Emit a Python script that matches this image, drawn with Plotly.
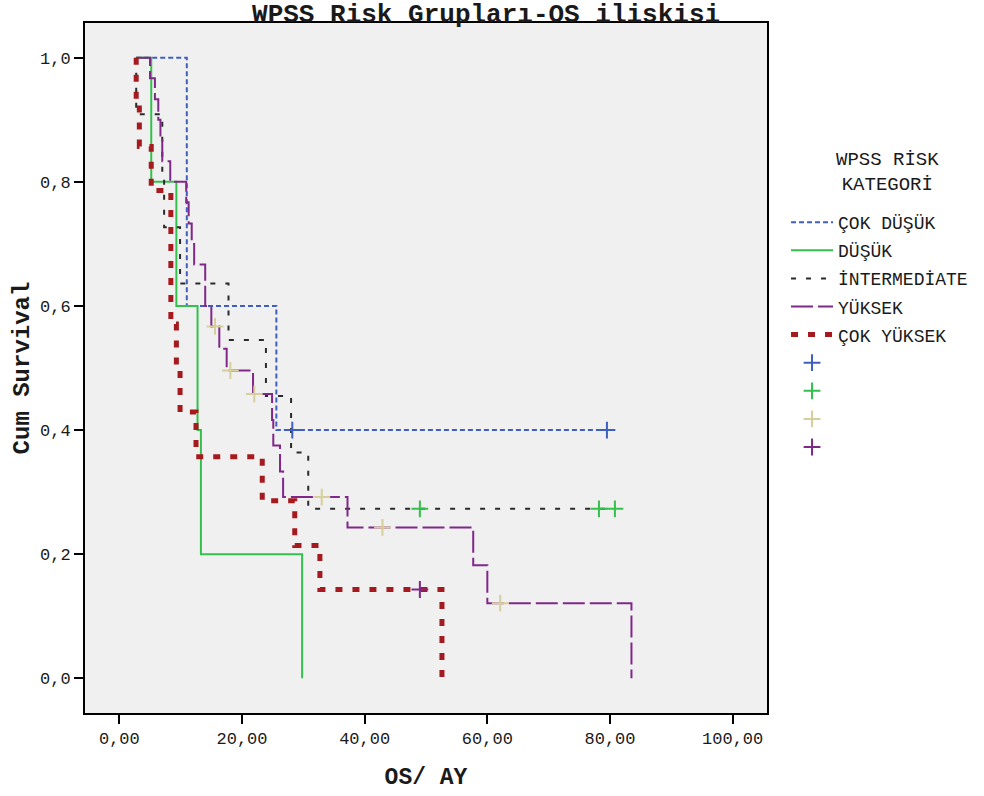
import plotly.graph_objects as go

# ---------------- data ----------------
CATEGORIES = ["ÇOK DÜŞÜK", "DÜŞÜK", "İNTERMEDİATE", "YÜKSEK", "ÇOK YÜKSEK"]
LEGEND_TITLE = "WPSS RİSK<br>KATEGORİ"
START_TIME = 2.75

COK_DUSUK_TIMES = [11.0, 25.6]
COK_DUSUK_SURV = [0.6, 0.4]
COK_DUSUK_CENSOR = [28.2, 79.5]

DUSUK_TIMES = [5.2, 9.3, 12.75, 13.3, 29.8]
DUSUK_SURV = [0.8, 0.6, 0.4, 0.2, 0.0]
DUSUK_CENSOR = []

INTER_TIMES = [2.75, 7.0, 7.3, 9.9, 17.8, 23.9, 28.0, 30.8]
INTER_SURV = [0.909, 0.818, 0.727, 0.636, 0.545, 0.455, 0.364, 0.273]
INTER_CENSOR = [49.0, 78.2, 80.8]

YUKSEK_TIMES = [5.0, 5.8, 6.35, 6.7, 7.0, 8.3, 10.9, 11.3, 11.8, 12.2, 14.0, 15.0,
                16.3, 17.5, 21.8, 24.9, 25.1, 26.2, 26.7, 37.2, 57.7, 60.0, 83.5]
YUKSEK_SURV = [0.967, 0.933, 0.900, 0.867, 0.833, 0.800, 0.767, 0.733, 0.700, 0.667, 0.600, 0.567,
               0.531, 0.496, 0.458, 0.416, 0.375, 0.333, 0.292, 0.243, 0.182, 0.121, 0.0]
YUKSEK_CENSOR = [15.6, 18.1, 22.0, 33.0, 42.9, 62.1]

COK_YUKSEK_TIMES = [2.75, 3.26, 5.2, 8.4, 9.3, 9.9, 12.5, 23.3, 28.6, 32.7, 52.6]
COK_YUKSEK_SURV = [0.929, 0.857, 0.786, 0.571, 0.500, 0.429, 0.357, 0.286, 0.214, 0.143, 0.0]
COK_YUKSEK_CENSOR = [49.0]

X_TICKS = [0, 20, 40, 60, 80, 100]
X_TICK_LABELS = ["0,00", "20,00", "40,00", "60,00", "80,00", "100,00"]
Y_TICKS = [0.0, 0.2, 0.4, 0.6, 0.8, 1.0]
Y_TICK_LABELS = ["0,0", "0,2", "0,4", "0,6", "0,8", "1,0"]

# ---------------- styles ----------------
FONT = "Liberation Mono"
TXT = "#1a1a1a"
LINE_STYLES = [
    dict(color="#3f5fc0", width=2, dash="5px,3px"),
    dict(color="#34c04c", width=2, dash="solid"),
    dict(color="#2a2a2a", width=2, dash="5px,10px"),
    dict(color="#80278a", width=2, dash="22px,5px"),
    dict(color="#a51a1e", width=5, dash="7px,10px"),
]
CENSOR_COLORS = ["#3f5fc0", "#34c04c", "#d6cf9c", "#80278a"]

series = [
    (COK_DUSUK_TIMES, COK_DUSUK_SURV, COK_DUSUK_CENSOR),
    (DUSUK_TIMES, DUSUK_SURV, DUSUK_CENSOR),
    (INTER_TIMES, INTER_SURV, INTER_CENSOR),
    (YUKSEK_TIMES, YUKSEK_SURV, YUKSEK_CENSOR),
    (COK_YUKSEK_TIMES, COK_YUKSEK_SURV, COK_YUKSEK_CENSOR),
]


def surv_at(times, surv, t):
    s = 1.0
    for ti, si in zip(times, surv):
        if ti <= t:
            s = si
    return s


fig = go.Figure()

for k, (name, (times, surv, cens), style) in enumerate(zip(CATEGORIES, series, LINE_STYLES)):
    xs = [START_TIME] + list(times)
    ys = [1.0] + list(surv)
    if cens and max(cens) > times[-1]:
        xs.append(max(cens))
        ys.append(surv[-1])
    fig.add_trace(go.Scatter(x=xs, y=ys, mode="lines", name=name, legendgroup=f"g{k}",
                             line=dict(shape="hv", **style)))

ci = 0
for times, surv, cens in series:
    if not cens:
        continue
    fig.add_trace(go.Scatter(
        x=cens, y=[surv_at(times, surv, c) for c in cens], mode="markers", name=" ",
        legendgroup=f"c{ci}",
        marker=dict(symbol="cross-thin", size=12,
                    line=dict(width=2, color=CENSOR_COLORS[ci]), color=CENSOR_COLORS[ci]),
    ))
    ci += 1

axis_common = dict(
    showline=True, mirror=True, linecolor="black", linewidth=2,
    showgrid=False, zeroline=False, ticks="outside", ticklen=9, tickwidth=2,
    tickcolor="black", tickfont=dict(family=FONT, size=17, color=TXT),
)

# legend title, centred over the legend items
fig.add_annotation(text=LEGEND_TITLE, xref="paper", yref="paper",
                   x=1.1772, y=0.7837, xanchor="center", yanchor="middle", align="center",
                   showarrow=False, font=dict(family=FONT, size=19, color=TXT))

fig.update_layout(
    width=984, height=796,
    margin=dict(l=85, r=216, t=23, b=83),
    paper_bgcolor="white", plot_bgcolor="#f0f0f0",
    title=dict(text="<b>WPSS Risk Grupları-OS iliskisi</b>", x=0.494, xanchor="center",
               y=1 - 13 / 796, yanchor="middle", font=dict(family=FONT, size=26, color=TXT)),
    xaxis=dict(range=[-5.6, 105.6], tickvals=X_TICKS, ticktext=X_TICK_LABELS,
               title=dict(text="<b>OS/ AY</b>", font=dict(family=FONT, size=23, color=TXT),
                          standoff=19),
               **axis_common),
    yaxis=dict(range=[-0.056, 1.056], tickvals=Y_TICKS, ticktext=Y_TICK_LABELS,
               title=dict(text="<b>Cum Survival</b>", font=dict(family=FONT, size=24, color=TXT),
                          standoff=4),
               **axis_common),
    legend=dict(
        x=1.0264, xanchor="left", y=0.7377, yanchor="top",
        itemwidth=42, traceorder="grouped", tracegroupgap=1.7,
        bgcolor="rgba(0,0,0,0)",
        font=dict(family=FONT, size=18, color=TXT),
    ),
    showlegend=True,
)

fig.write_html("out.html")
